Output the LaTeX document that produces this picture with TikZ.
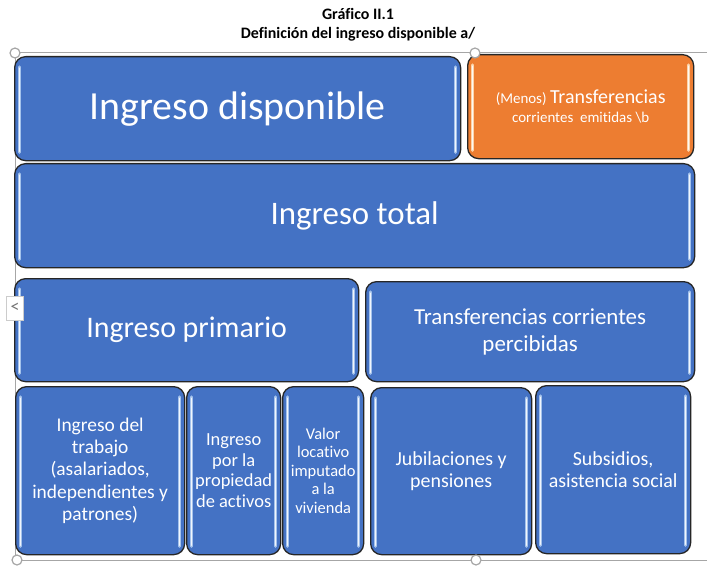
\documentclass[tikz,border=0pt]{standalone}
\usepackage{fontspec}
\setmainfont{Carlito}[Ligatures=NoCommon]
\definecolor{boxblue}{HTML}{4472C4}
\definecolor{boxorange}{HTML}{ED7D31}
\definecolor{hlblue}{HTML}{BDD7F5}
\definecolor{hlorange}{HTML}{FFE9C8}
\definecolor{framegrey}{HTML}{A6A6A6}
\tikzset{
  blk/.style={draw=black!85, line width=1.3bp, rounded corners=11bp, fill=boxblue,
    text=white, anchor=north west, inner sep=0pt, align=center},
  orangeblk/.style={blk, fill=boxorange},
  handle/.style={circle, draw=framegrey, fill=white, line width=1.2bp, minimum size=10bp, inner sep=0pt},
  frameline/.style={draw=framegrey, line width=1bp},
}
\newcommand\gloss[2]{%
  \draw[#2, line width=3.2bp, line cap=round, opacity=0.8] ([xshift=5.5bp,yshift=-11bp]#1.north west) -- ([xshift=5.5bp,yshift=9bp]#1.south west);
  \draw[#2, line width=3.2bp, line cap=round, opacity=0.8] ([xshift=-5.5bp,yshift=-11bp]#1.north east) -- ([xshift=-5.5bp,yshift=9bp]#1.south east);
  \draw[white, line width=1bp, line cap=round, opacity=0.85] ([xshift=5.5bp,yshift=-12bp]#1.north west) -- ([xshift=5.5bp,yshift=10bp]#1.south west);
  \draw[white, line width=1bp, line cap=round, opacity=0.85] ([xshift=-5.5bp,yshift=-12bp]#1.north east) -- ([xshift=-5.5bp,yshift=10bp]#1.south east);
}
\begin{document}
\begin{tikzpicture}[x=1bp,y=-1bp]
\useasboundingbox (0,0) rectangle (715,577);
% title
\node[font=\fontsize{16}{19}\selectfont\bfseries, align=center] (title) at (358,25) {Gráfico II.1\\Definición del ingreso disponible a/};
% selection frame
\coordinate (ftl) at (15,53);
\coordinate (ftr) at (707,53);
\coordinate (fbl) at (15,560);
\coordinate (fbr) at (707,560);
\draw[frameline] (ftr) -- (ftl) -- (fbl) -- (fbr);
% boxes
\node[blk, minimum width=446bp, minimum height=104bp, font=\fontsize{40}{44}\selectfont] (disp) at (14,56) {Ingreso disponible};
\node[orangeblk, minimum width=226bp, minimum height=104bp, font=\fontsize{15}{19}\selectfont] (emit) at (467,54) {(Menos) {\fontsize{20}{19}\selectfont Transferencias}\\corrientes\ \ emitidas \textbackslash b};
\node[blk, minimum width=680bp, minimum height=104bp, font=\fontsize{33}{38}\selectfont] (total) at (14,163) {Ingreso total};
\node[blk, minimum width=344bp, minimum height=103bp, font=\fontsize{30}{34}\selectfont] (prim) at (14,278) {Ingreso primario};
\node[blk, minimum width=329bp, minimum height=100bp, font=\fontsize{23}{27}\selectfont] (perc) at (365,281) {Transferencias corrientes\\percibidas};
\node[blk, minimum width=169bp, minimum height=168bp, font=\fontsize{19.5}{22.5}\selectfont] (trab) at (15,386) {Ingreso del\\trabajo\\(asalariados,\\independientes y\\patrones)};
\node[blk, minimum width=94bp, minimum height=168bp, font=\fontsize{18.5}{20.5}\selectfont] (prop) at (186,386) {Ingreso\\por la\\propiedad\\de activos};
\node[blk, minimum width=81bp, minimum height=168bp, font=\fontsize{16.5}{18.5}\selectfont] (viv) at (282,386) {Valor\\locativo\\imputado\\a la\\vivienda};
\node[blk, minimum width=161bp, minimum height=167bp, font=\fontsize{20}{22.5}\selectfont] (jub) at (370,387) {Jubilaciones y\\pensiones};
\node[blk, minimum width=155bp, minimum height=168bp, font=\fontsize{20}{22.5}\selectfont] (sub) at (535,385) {Subsidios,\\asistencia social};
% gloss strips
\gloss{disp}{hlblue}
\gloss{emit}{hlorange}
\gloss{total}{hlblue}
\gloss{prim}{hlblue}
\gloss{perc}{hlblue}
\gloss{trab}{hlblue}
\gloss{prop}{hlblue}
\gloss{viv}{hlblue}
\gloss{jub}{hlblue}
\gloss{sub}{hlblue}
% handles
\node[handle] (h1) at (15,53) {};
\node[handle] (h2) at (475,53) {};
\node[handle] (h3) at (17,560) {};
\node[handle] (h4) at (476,560) {};
% side tab
\node[draw=black!20, fill=white, minimum width=17bp, minimum height=24bp, inner sep=0pt, text=black!55, font=\fontsize{18}{18}\selectfont] (tab) at (15,308) {<};
\end{tikzpicture}
\end{document}
